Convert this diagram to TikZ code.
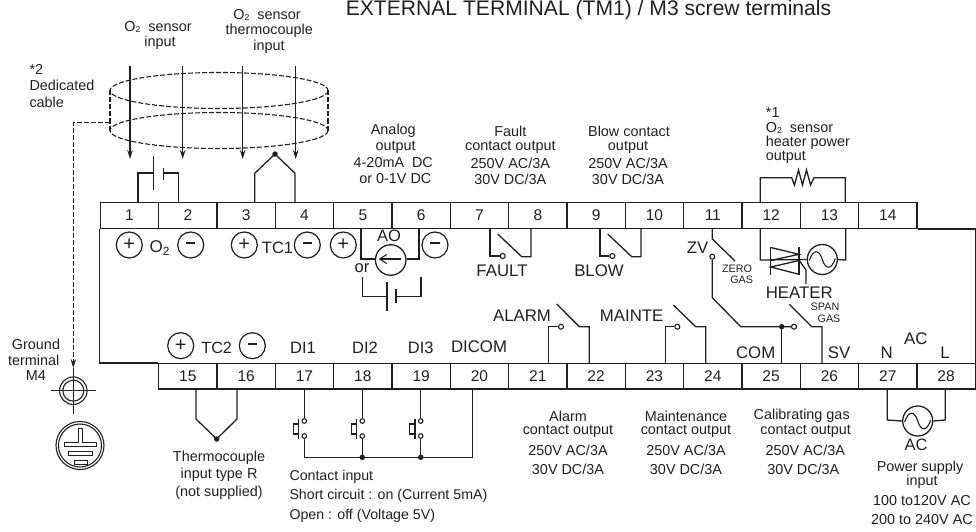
\documentclass[tikz,border=0pt]{standalone}
\usepackage{fontspec}
\setmainfont{Liberation Sans}
\usetikzlibrary{arrows.meta}
\definecolor{ink}{HTML}{231F20}
\newcommand{\Osub}{O\raisebox{-.25ex}{\scalebox{.6}{2}}}
\newcommand{\fs}[1]{\fontsize{#1}{#1}\selectfont}
\newcommand{\minus}{\rule[.3ex]{9.5pt}{2pt}}
\tikzset{
 wire/.style={draw=ink,line width=1.3pt,line join=miter},
 cell/.style={draw=ink,line width=1.4pt,minimum width=58.33pt,minimum height=25.5pt,inner sep=0pt,text=ink,font=\fs{15.5}},
 sign/.style={circle,draw=ink,line width=1.2pt,minimum size=26pt,inner sep=0pt,text=ink,font=\fs{20}},
 lbl/.style={inner sep=0pt,text=ink,font=\fs{14.4},align=center},
 lbll/.style={lbl,align=left,anchor=west},
 big/.style={inner sep=0pt,text=ink,font=\fs{16.8}},
 tiny/.style={inner sep=0pt,text=ink,font=\fs{10.8}},
 opn/.style={circle,draw=ink,line width=1.1pt,fill=white,minimum size=5pt,inner sep=0pt},
 jdot/.style={circle,fill=ink,minimum size=5.5pt,inner sep=0pt},
 acsrc/.style={circle,draw=ink,line width=1.3pt,minimum size=30pt,inner sep=0pt,
   path picture={\draw[ink,line width=1.1pt,shift={(path picture bounding box.center)}]
     (-13,1) .. controls (-9,-11) and (-3,-10) .. (0,0) .. controls (3,10) and (9,11) .. (13,-1);}},
 cable/.style={draw=ink,line width=1.1pt,dash pattern=on 5pt off 2pt},
 feed/.style={draw=ink,line width=1.3pt,-{Stealth[length=9pt,width=5.5pt]}},
 ring/.style={circle,draw=ink,line width=1.1pt,inner sep=0pt},
 bar/.style={draw=ink,line width=1pt},
}
\begin{document}
\begin{tikzpicture}[x=1pt,y=-1pt]
\useasboundingbox (0,0) rectangle (976,532);
% terminals
\foreach \n [count=\i from 0] in {1,...,14}{
  \node[cell] (t\n) at ({129.5+58.33*\i},215.5) {\n};}
\foreach \n [count=\i from 0] in {15,...,28}{
  \node[cell] (t\n) at ({187.8+58.33*\i},376.3) {\n};}
\draw[wire,line width=1.4pt] (t1.south west) -- (t15.north west -| t1.south west) -- (t15.north west);
\draw[wire,line width=1.4pt] (t14.south east) -- (t28.north east |- t14.south east) -- (t28.north east);
% title and upper labels
\node[anchor=base,inner sep=0pt,text=ink,font=\fs{21.1}] (title) at (588.5,16) {EXTERNAL TERMINAL (TM1) / M3 screw terminals};
\node[lbl] (o2a) at (158,27) {\Osub\ \ sensor};
\node[lbl] (o2b) at (160,43) {input};
\node[lbl] (o2c) at (267,15) {\Osub\ \ sensor};
\node[lbl] (o2d) at (269.3,31) {thermocouple};
\node[lbl] (o2e) at (269,47) {input};
\node[lbll] (s2) at (29.3,69) {*2};
\node[lbll] (ded) at (29.3,85.5) {Dedicated};
\node[lbll] (cab) at (29.3,102) {cable};
% cable
\draw[cable] (328,90.5) arc [start angle=0,end angle=360,x radius=109,y radius=18];
\draw[cable] (328,130.5) arc [start angle=0,end angle=360,x radius=109,y radius=18];
\draw[cable] (110,90.5) -- (110,130.5);
\draw[cable] (328,90.5) -- (328,130.5);
\coordinate (cb) at (110,122.5);
\coordinate (gt) at (73.3,368);
\node[ring,minimum size=27.5pt] (gnd1) at (73.3,390.7) {};
\node[ring,minimum size=21pt] (gnd2) at (73.3,390.7) {};
\draw[cable,-{Stealth[length=9pt,width=5.5pt]}] (cb) -- (73.3,122.5) -- (gt);
\draw[wire,line width=1.1pt] (51,390.7) -- (96,390.7);
\draw[wire,line width=1.1pt] (gt) -- (73.3,414);
% ground symbol
\node[ring,minimum size=48pt] (pe1) at (80,445.5) {};
\node[ring,minimum size=43pt] (pe2) at (80,445.5) {};
\draw[bar] (78.3,428) -- (78.3,442.7) -- (64,442.7) -- (64,446.7) -- (96.7,446.7) -- (96.7,442.7) -- (82.3,442.7) -- (82.3,428) -- cycle;
\draw[bar] (68.3,451.7) rectangle (92.7,455.7);
\draw[bar] (74,460) rectangle (87.3,464);
% input arrows
\foreach \x/\n in {130/a,182.7/b,242.7/c,295.7/d}{
  \draw[feed] (\x,66) -- (\x,159);}
% battery 1-2
\draw[wire] (138,0 |- t1.north) -- (138,173) -- (153.7,173);
\draw[wire] (153.7,156) -- (153.7,190);
\draw[wire] (163.3,167.7) -- (163.3,180);
\draw[wire] (163.3,173) -- (178.7,173) -- (178.7,0 |- t2.north);
% TC1
\node[jdot] (tc1) at (275,154) {};
\draw[wire] (254.7,0 |- t3.north) -- (254.7,173.3) -- (tc1.center) -- (295,173.3) -- (295,0 |- t4.north);
% signs row
\node[sign] (p1) at (129.3,245) {+};
\node[sign] (m1) at (190.7,245) {\minus};
\node[big,font=\fs{17}] (o2) at (159.5,248) {O\raisebox{-.25ex}{\scalebox{.7}{2}}};
\node[sign] (p2) at (244.3,245) {+};
\node[big,font=\fs{16.5}] (tc1l) at (277.5,248) {TC1};
\node[sign] (m2) at (307.3,245) {\minus};
\node[sign] (p3) at (343.3,245) {+};
\node[sign] (m3) at (435,245) {\minus};
% AO
\node[circle,draw=ink,line width=1.3pt,minimum size=30.5pt,inner sep=0pt] (ao) at (390.7,260) {};
\draw[wire] (361,0 |- t5.south) -- (361,259) -- (ao.west |- 0,259);
\draw[wire] (419,0 |- t6.south) -- (419,259) -- (ao.east |- 0,259);
\draw[draw=ink,line width=1.1pt,-{Straight Barb[length=7pt,width=9pt]}] (ao.center) ++(10.5,-1) -- ++(-22.5,0);
\node[big,font=\fs{16.5}] (aol) at (389,236) {AO};
\node[big,font=\fs{16.5}] (orl) at (362,268) {or};
\draw[wire] (362.7,277) -- (362.7,296.7) -- (387,296.7);
\draw[wire] (387,281.7) -- (387,311);
\draw[wire] (396,289) -- (396,303);
\draw[wire] (396,296.7) -- (421,296.7) -- (421,277);
% upper output labels
\node[lbl] (an1) at (393.3,131) {Analog};
\node[lbl] (an2) at (395.7,147) {output};
\node[lbl] (an3) at (393.3,163) {4-20mA\ \ DC};
\node[lbl] (an4) at (395.3,179) {or 0-1V DC};
\node[lbl] (fa1) at (510.3,131) {Fault};
\node[lbl] (fa2) at (510.3,147) {contact output};
\node[lbl] (fa3) at (510.3,163) {250V AC/3A};
\node[lbl] (fa4) at (510.3,179) {30V DC/3A};
\node[lbl] (bl1) at (629,131) {Blow contact};
\node[lbl] (bl2) at (628,147) {output};
\node[lbl] (bl3) at (628,163) {250V AC/3A};
\node[lbl] (bl4) at (628,179) {30V DC/3A};
% FAULT
\node[opn] (fc) at (502.7,256) {};
\draw[wire] (490,0 |- t7.south) -- (490,256) -- (fc.west);
\draw[wire] (497.7,234) -- (521.7,256.7) -- (531,256.7) -- (531,0 |- t8.south);
\node[big] (fl) at (502,271) {FAULT};
% BLOW
\node[opn] (bc) at (612.3,256) {};
\draw[wire] (600,0 |- t9.south) -- (600,256) -- (bc.west);
\draw[wire] (607.7,234) -- (631.7,256.7) -- (641,256.7) -- (641,0 |- t10.south);
\node[big] (bll) at (599,271) {BLOW};
% ZV
\draw[wire] (712.3,0 |- t11.south) -- (712.3,239) -- (735,261);
\node[big] (zv) at (697.7,248) {ZV};
\node[opn] (zc) at (712.3,256.7) {};
\node[tiny] (ze1) at (737,269) {ZERO};
\node[tiny] (ze2) at (741.7,279.5) {GAS};
\node[jdot] (cj) at (781.7,326.7) {};
\node[opn] (cc) at (794,326.7) {};
\draw[wire] (zc.south) -- (712.3,297.7) -- (740.7,326.7) -- (cj.center) -- (cc.west);
\draw[wire] (cj.center) -- (781.7,0 |- t25.north);
\draw[wire] (822,0 |- t26.north) -- (822,326.7) -- (811.7,326.7) -- (789.3,304.3);
\node[tiny] (sp1) at (825,306.7) {SPAN};
\node[tiny] (sp2) at (829,319) {GAS};
\node[big] (com) at (755.7,353) {COM};
\node[big] (sv) at (839,353) {SV};
\node[big] (n) at (886.7,353) {N};
\node[big] (l) at (945,353) {L};
\node[big] (ac2) at (915.7,339) {AC};
% heater resistor
\draw[wire] (760.3,0 |- t12.north) -- (760.3,177.7) -- (791.7,177.7) -- (794.5,185) -- (798.5,170) -- (802.5,185) -- (806.5,170) -- (810.5,185) -- (814,177.7) -- (845.3,177.7) -- (845.3,0 |- t13.north);
\node[lbll] (h1) at (765.7,113) {*1};
\node[lbll] (h2) at (765.7,128) {\Osub\ \ sensor};
\node[lbll] (h3) at (765.7,142.5) {heater power};
\node[lbll] (h4) at (765.7,157) {output};
% triac
\node[acsrc] (hs) at (822.3,259.5) {};
\draw[wire] (760.3,0 |- t12.south) -- (760.3,260) -- (hs.west);
\draw[wire] (845.7,0 |- t13.south) -- (845.7,260) -- (hs.east);
\draw[wire] (770.7,246.7) -- (770.7,275);
\draw[wire] (799,246.7) -- (799,275);
\draw[wire] (770.7,247.5) -- (799,254.3) -- (770.7,260.5);
\draw[wire] (799,260.5) -- (770.7,267) -- (799,274.3);
\draw[wire] (799,260) -- (806,270) -- (806,284);
\node[big] (htr) at (799.3,292.5) {HEATER};
% lower left
\node[sign] (p4) at (180.7,345.7) {+};
\node[big,font=\fs{16.2}] (tc2) at (216.7,348) {TC2};
\node[sign] (m4) at (252.3,345.7) {\minus};
\node[big,font=\fs{16.5}] (d1) at (303,347.5) {DI1};
\node[big,font=\fs{16.5}] (d2) at (365,348) {DI2};
\node[big,font=\fs{16.5}] (d3) at (420.7,348) {DI3};
\node[big] (dc) at (479,347) {DICOM};
% ground text
\node[lbl] (g1) at (36,344) {Ground};
\node[lbl] (g2) at (33.7,360) {terminal};
\node[lbl] (g3) at (36,376) {M4};
% TC2
\node[jdot] (tc2d) at (216.7,439) {};
\draw[wire] (196,0 |- t15.south) -- (196,419) -- (tc2d.center) -- (237,419) -- (237,0 |- t16.south);
\node[lbl] (tr1) at (219,457.5) {Thermocouple};
\node[lbl] (tr2) at (219,475) {input type R};
\node[lbl] (tr3) at (219,492.5) {(not supplied)};
% DI switches
\coordinate (bus) at (472.7,457.3);
\foreach \x/\tn/\id in {304.3/t17/a,362.3/t18/b,420.7/t19/c}{
  \node[opn,minimum size=4.6pt] (u\id) at (\x,421) {};
  \node[opn,minimum size=4.6pt] (v\id) at (\x,436) {};
  \draw[wire] (\x,0 |- \tn.south) -- (u\id.north);
  \draw[wire] (v\id.south) -- (\x,457.3);
  \draw[wire,line width=1.1pt] (\x-5.7,419) -- (\x-5.7,439);
  \draw[wire,line width=1.1pt] (\x-5.7,424) -- (\x-11,424) -- (\x-11,434) -- (\x-5.7,434);
}
\draw[wire] (304.3,457.3) -- (bus) -- (472.7,0 |- t20.south);
\node[jdot] (j1) at (362.3,457.3) {};
\node[jdot] (j2) at (420.7,457.3) {};
\node[lbll,font=\fs{14.2}] (ci1) at (289.3,476.7) {Contact input};
\node[lbll,font=\fs{14.2}] (ci2) at (289.3,495.7) {Short circuit : on (Current 5mA)};
\node[lbll,font=\fs{14.2}] (ci3) at (289.3,515.7) {Open : off (Voltage 5V)};
% ALARM / MAINTE
\node[big] (al) at (522,316) {ALARM};
\node[opn] (ac) at (561,326.7) {};
\draw[wire] (548.7,0 |- t21.north) -- (548.7,326.7) -- (ac.west);
\draw[wire] (556.7,304) -- (579.3,326.7) -- (589.3,326.7) -- (589.3,0 |- t22.north);
\node[big] (ma) at (631.7,316) {MAINTE};
\node[opn] (mc) at (677.3,326.7) {};
\draw[wire] (665.2,0 |- t23.north) -- (665.2,326.7) -- (mc.west);
\draw[wire] (673.3,305) -- (695.7,326.7) -- (705.7,326.7) -- (705.7,0 |- t24.north);
% lower output labels
\node[lbl] (a1) at (568,416) {Alarm};
\node[lbl] (a2) at (568,431) {contact output};
\node[lbl] (a3) at (568,450) {250V AC/3A};
\node[lbl] (a4) at (568,469.3) {30V DC/3A};
\node[lbl] (mm1) at (686,416) {Maintenance};
\node[lbl] (mm2) at (686,431) {contact output};
\node[lbl] (mm3) at (686,450) {250V AC/3A};
\node[lbl] (mm4) at (686,469.3) {30V DC/3A};
\node[lbl] (cg1) at (801.7,416) {Calibrating gas};
\node[lbl] (cg2) at (805.7,431) {contact output};
\node[lbl] (cg3) at (805.3,450) {250V AC/3A};
\node[lbl] (cg4) at (803.3,469.3) {30V DC/3A};
% power
\node[acsrc] (ps) at (917.7,421) {};
\draw[wire] (887.3,0 |- t27.south) -- (887.3,420) -- (ps.west);
\draw[wire] (945.3,0 |- t28.south) -- (945.3,420) -- (ps.east);
\node[big,font=\fs{16.5}] (acl) at (916,445) {AC};
\node[lbl] (ps1) at (920,468) {Power supply};
\node[lbl] (ps2) at (922,482) {input};
\node[lbl] (ps3) at (922,500.7) {100 to120V AC};
\node[lbl] (ps4) at (922,520) {200 to 240V AC};
\end{tikzpicture}
\end{document}
